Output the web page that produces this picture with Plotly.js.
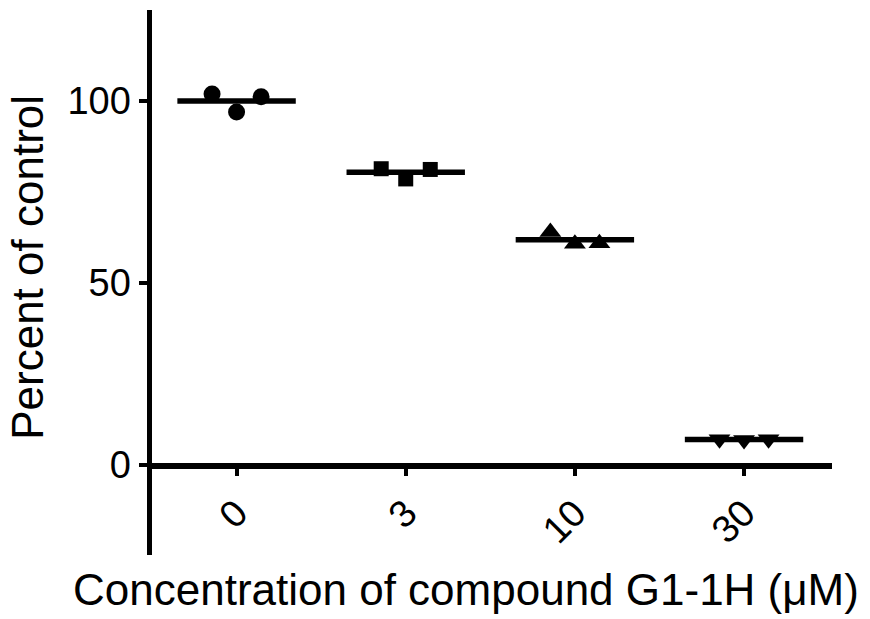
<!DOCTYPE html>
<html><head><meta charset="utf-8">
<script src="https://cdn.plot.ly/plotly-3.0.1.min.js"></script>
<style>html,body{margin:0;padding:0;background:#fff}</style>
</head><body><div id="chart" style="width:870px;height:619px"></div>
<script>
// Data
const categories = ["0", "3", "10", "30"];
const group0 = [101.9, 97.0, 101.2];
const group3 = [81.4, 78.6, 81.2];
const group10 = [64.0, 60.8, 60.9];
const group30 = [7.1, 6.9, 7.1];
const xTitle = "Concentration of compound G1-1H (\u03bcM)";
const yTitle = "Percent of control";

const groups = [group0, group3, group10, group30];
const symbols = ["circle", "square", "triangle-up", "triangle-down"];
const sizes = [17, 15, 19, 19];
const spread = 0.145, halfW = 0.35;

const traces = [];
groups.forEach((vals, gi) => {
  const n = vals.length;
  const xs = vals.map((v, i) => gi + (i - (n - 1) / 2) * spread);
  traces.push({type: "scatter", mode: "markers", x: xs, y: vals,
    marker: {symbol: symbols[gi], size: sizes[gi], color: "#000"}, hoverinfo: "skip"});
  const mean = vals.reduce((a, b) => a + b, 0) / n;
  traces.push({type: "scatter", mode: "lines", x: [gi - halfW, gi + halfW], y: [mean, mean],
    line: {color: "#000", width: 5.5}, hoverinfo: "skip"});
});

const yMin = -24.7, yMax = 125;
const layout = {
  width: 870, height: 619,
  margin: {l: 152, r: 38, t: 10, b: 64},
  paper_bgcolor: "#fff", plot_bgcolor: "#fff",
  showlegend: false,
  font: {family: "Liberation Sans, Arial, sans-serif", color: "#000", size: 38},
  xaxis: {
    range: [-0.5, 3.52], tickvals: [0, 1, 2, 3], ticktext: categories,
    tickangle: -45, ticks: "outside", ticklen: 7, tickwidth: 4, tickcolor: "#000",
    showline: true, linewidth: 5.5, linecolor: "#000", showgrid: false, zeroline: false,
    anchor: "free", position: (0 - yMin) / (yMax - yMin),
    tickfont: {size: 38}
  },
  yaxis: {
    range: [yMin, yMax], tickvals: [0, 50, 100], ticktext: ["0", "50", "100"],
    ticks: "outside", ticklen: 8, tickwidth: 4, tickcolor: "#000",
    showline: true, linewidth: 5.5, linecolor: "#000", showgrid: false, zeroline: false,
    tickfont: {size: 38}
  },
  annotations: [
    {text: xTitle, xref: "paper", yref: "paper", x: 0.462, y: -0.064, showarrow: false,
     xanchor: "center", yanchor: "middle", font: {size: 44}},
    {text: yTitle, xref: "paper", yref: "paper", x: -0.183, y: 0.528, showarrow: false,
     textangle: -90, xanchor: "center", yanchor: "middle", font: {size: 44}}
  ]
};
Plotly.newPlot("chart", traces, layout, {displayModeBar: false, staticPlot: true});
</script></body></html>
